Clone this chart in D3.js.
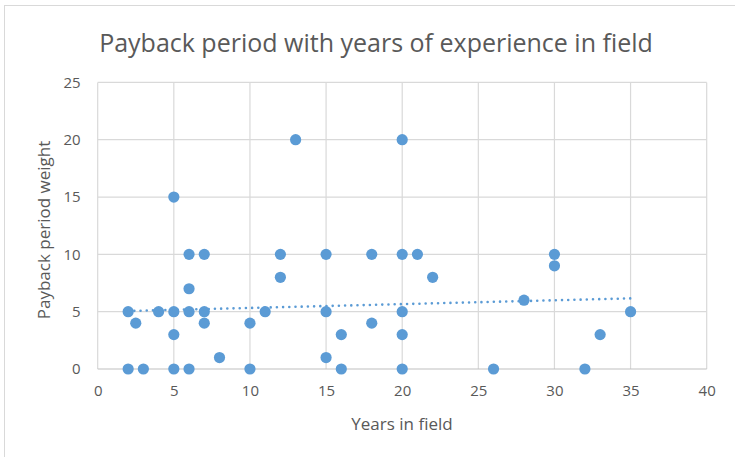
<!DOCTYPE html>
<html lang="en">
<head>
  <meta charset="UTF-8">
  <title>Payback period</title>
  <style>
    body { margin: 0; background: #fff; }
    svg { display: block; }
    text { font-family: "Open Sans", sans-serif; fill: #595959; }
  </style>
</head>
<body>
  <script src="https://d3js.org/d3.v7.min.js"></script>
  <script>
    'use strict';

    // years in field / payback period weight
    const years = [5, 6, 7, 12, 12, 6, 2, 4, 5, 6, 7, 11, 2.5, 7, 10, 5, 8, 2, 3, 5, 6, 10,
                   13, 20, 15, 18, 20, 21, 22, 15, 20, 18, 16, 20, 15, 16, 20,
                   30, 30, 28, 35, 33, 26, 32];
    const weights = [15, 10, 10, 10, 8, 7, 5, 5, 5, 5, 5, 5, 4, 4, 4, 3, 1, 0, 0, 0, 0, 0,
                     20, 20, 10, 10, 10, 10, 8, 5, 5, 4, 3, 3, 1, 0, 0,
                     10, 9, 6, 5, 3, 0, 0];

    // linear trendline ends as drawn in the picture
    const trendX = [2, 35];
    const trendY = [5.06, 6.16];

    const xTicks = [0, 5, 10, 15, 20, 25, 30, 35, 40];
    const yTicks = [0, 5, 10, 15, 20, 25];

    const width = 735;
    const height = 457;
    const plotLeft = 97.7, plotRight = 706.7, plotTop = 82.4, plotBottom = 369;
    const blue = '#5b9bd5';

    const x = d3.scaleLinear().domain([0, 40]).range([plotLeft, plotRight]);
    const y = d3.scaleLinear().domain([0, 25]).range([plotBottom, plotTop]);

    const svg = d3.select('body').append('svg')
      .attr('width', width)
      .attr('height', height);

    // chart frame (cut off at right and bottom)
    svg.append('rect')
      .attr('x', 4.5).attr('y', 5.5)
      .attr('width', width + 20).attr('height', height + 20)
      .attr('fill', '#fff')
      .attr('stroke', '#d9d9d9');

    svg.append('text')
      .attr('x', 376).attr('y', 52)
      .attr('text-anchor', 'middle')
      .attr('font-size', '25px')
      .text('Payback period with years of experience in field');

    // gridlines
    svg.append('g').selectAll('line').data(yTicks.slice(1)).join('line')
      .attr('x1', plotLeft).attr('x2', plotRight)
      .attr('y1', d => y(d)).attr('y2', d => y(d))
      .attr('stroke', '#d9d9d9').attr('stroke-width', 1.2);
    svg.append('g').selectAll('line').data(xTicks).join('line')
      .attr('x1', d => x(d)).attr('x2', d => x(d))
      .attr('y1', plotTop).attr('y2', plotBottom)
      .attr('stroke', '#d9d9d9').attr('stroke-width', 1.2);
    svg.append('line')
      .attr('x1', plotLeft).attr('x2', plotRight)
      .attr('y1', plotBottom).attr('y2', plotBottom)
      .attr('stroke', '#bfbfbf').attr('stroke-width', 1.2);

    // tick labels
    const xAxis = d3.axisBottom(x).tickValues(xTicks).tickSize(0).tickPadding(16);
    svg.append('g')
      .attr('transform', 'translate(0,' + plotBottom + ')')
      .call(xAxis)
      .call(g => g.select('.domain').remove())
      .selectAll('text').attr('font-size', '15px').attr('fill', '#595959');

    const yAxis = d3.axisLeft(y).tickValues(yTicks).tickSize(0).tickPadding(17);
    svg.append('g')
      .attr('transform', 'translate(' + plotLeft + ',0)')
      .call(yAxis)
      .call(g => g.select('.domain').remove())
      .selectAll('text').attr('font-size', '15px').attr('fill', '#595959');

    svg.selectAll('.tick text').attr('font-family', '"Open Sans", sans-serif');

    // axis titles
    svg.append('text')
      .attr('x', 402).attr('y', 430)
      .attr('text-anchor', 'middle')
      .attr('font-size', '17px')
      .text('Years in field');
    svg.append('text')
      .attr('transform', 'translate(50,230) rotate(-90)')
      .attr('text-anchor', 'middle')
      .attr('font-size', '17px')
      .text('Payback period weight');

    // points
    const pts = years.map((d, i) => ({ x: d, y: weights[i] }));
    svg.append('g').selectAll('circle').data(pts).join('circle')
      .attr('cx', d => x(d.x))
      .attr('cy', d => y(d.y))
      .attr('r', 5.6)
      .attr('fill', blue);

    // dotted trendline
    const line = d3.line().x(d => x(d[0])).y(d => y(d[1]));
    svg.append('path')
      .datum(trendX.map((d, i) => [d, trendY[i]]))
      .attr('d', line)
      .attr('fill', 'none')
      .attr('stroke', blue)
      .attr('stroke-width', 2.6)
      .attr('stroke-linecap', 'round')
      .attr('stroke-dasharray', '0 6.2');
  </script>
</body>
</html>
